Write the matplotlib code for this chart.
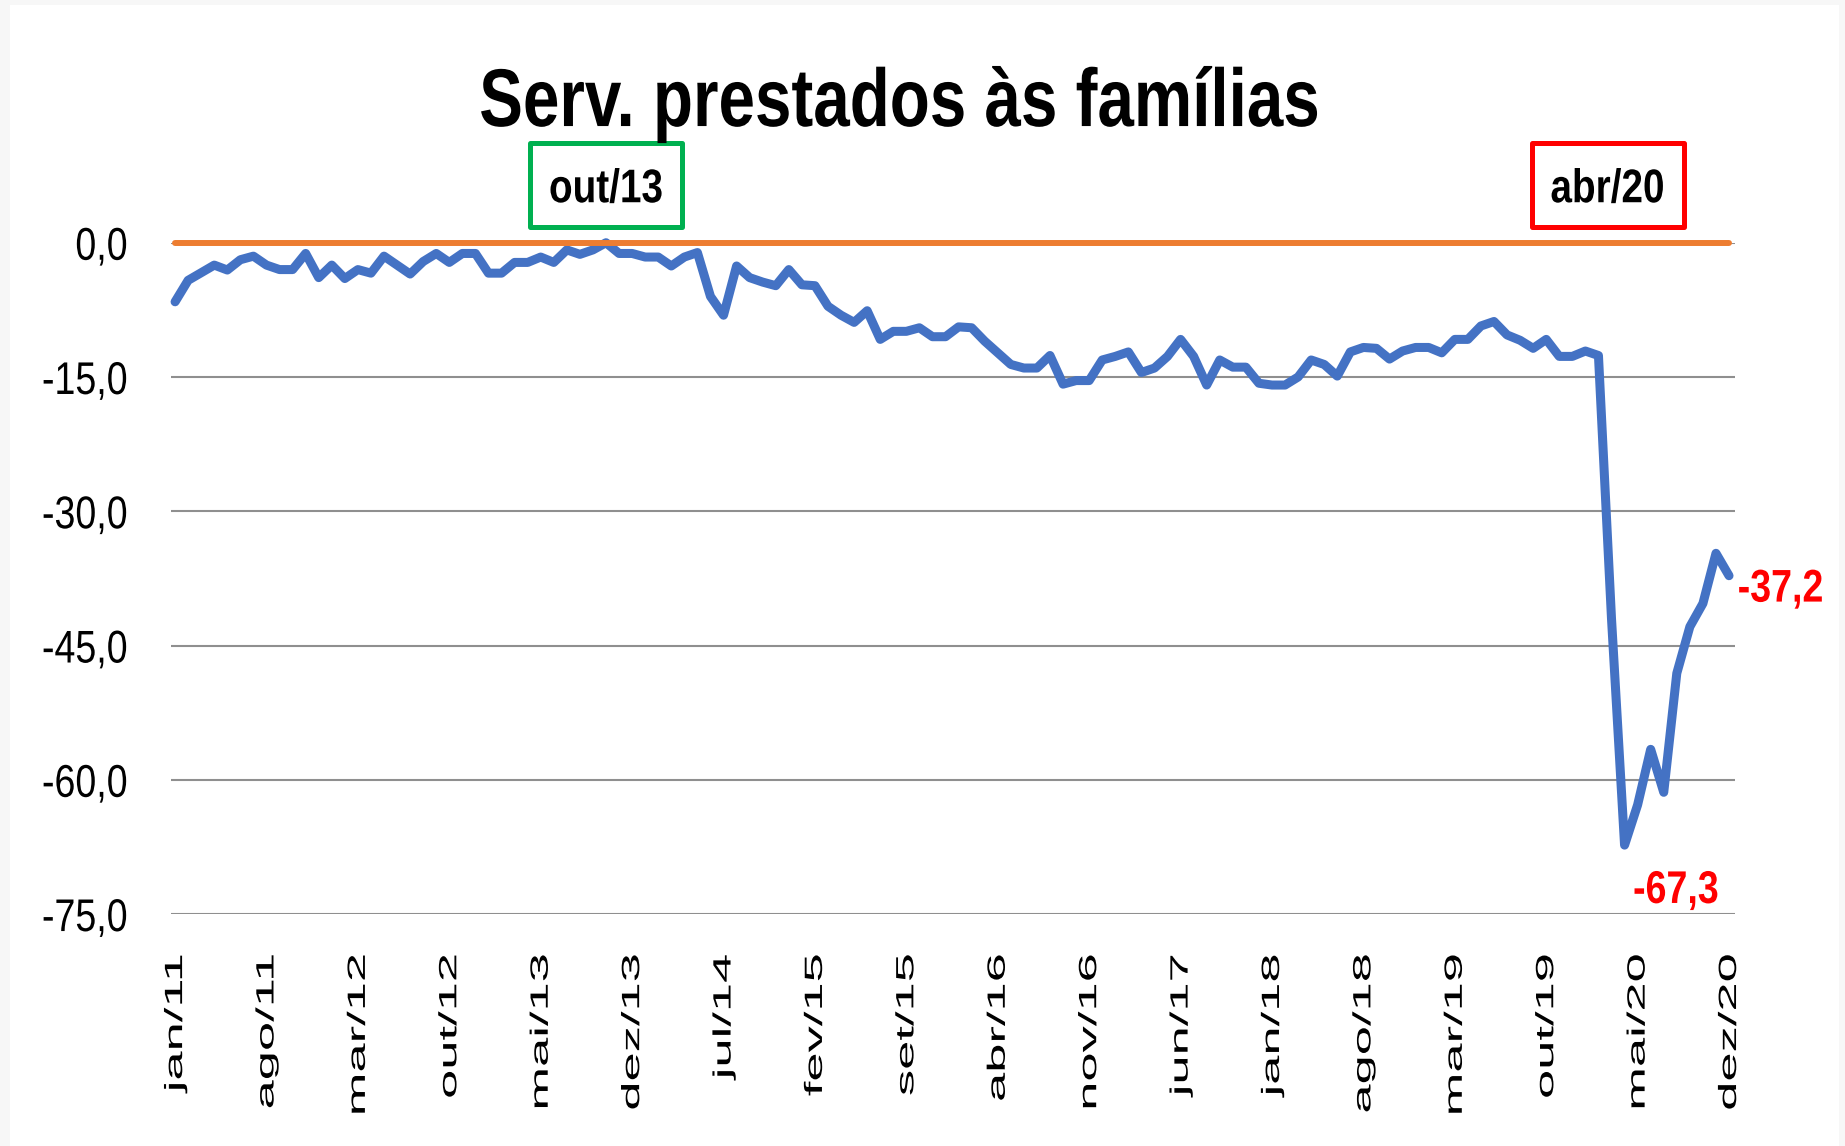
import numpy as np
import matplotlib
matplotlib.use('Agg')
import matplotlib.pyplot as plt
from matplotlib import patheffects
from matplotlib.patches import Rectangle
from matplotlib.transforms import Affine2D, blended_transform_factory

# Serviços prestados às famílias: distância (%) em relação ao pico de out/13
# jan/11 a dez/20
servicos = [
    -6.6, -4.2, -3.35, -2.5, -3.05, -1.9, -1.5, -2.5, -3.0, -3.0, -1.2, -3.9,     # 2011
    -2.5, -4.0, -3.0, -3.4, -1.5, -2.5, -3.5, -2.1, -1.2, -2.2, -1.2, -1.2,       # 2012
    -3.4, -3.4, -2.2, -2.2, -1.6, -2.2, -0.8, -1.3, -0.8, 0.0, -1.2, -1.2,        # 2013
    -1.6, -1.6, -2.6, -1.6, -1.1, -6.0, -8.1, -2.6, -3.9, -4.4, -4.8, -3.0,       # 2014
    -4.7, -4.8, -7.1, -8.1, -8.9, -7.6, -10.8, -9.9, -9.9, -9.5, -10.5, -10.5,    # 2015
    -9.4, -9.5, -11.0, -12.3, -13.6, -14.0, -14.0, -12.6, -15.8, -15.4, -15.4, -13.1,  # 2016
    -12.7, -12.2, -14.5, -14.0, -12.7, -10.8, -12.7, -15.9, -13.1, -13.9, -13.9, -15.7,  # 2017
    -15.9, -15.9, -15.0, -13.1, -13.6, -14.9, -12.2, -11.7, -11.8, -13.0, -12.1, -11.7,  # 2018
    -11.7, -12.3, -10.8, -10.8, -9.3, -8.8, -10.3, -10.9, -11.8, -10.8, -12.7, -12.7,   # 2019
    -12.1, -12.6, -42.0, -67.3, -62.8, -56.6, -61.4, -48.1, -42.9, -40.3, -34.7, -37.2,  # 2020
]
meses = ['jan', 'fev', 'mar', 'abr', 'mai', 'jun', 'jul', 'ago', 'set', 'out', 'nov', 'dez']
anos = list(range(11, 21))
rotulos = [f'{m}/{a}' for a in anos for m in meses]
passo_rotulo = 7
y_ticks = [0, -15, -30, -45, -60, -75]
destaques = ['out/13', 'abr/20']
cores_destaque = ['#00B050', '#FF0000']
desloc_destaque = [0.0, -1.3]

AZUL = '#4472C4'
LARANJA = '#ED7D31'
VERMELHO = '#FF0000'

plt.rcParams['font.family'] = ['Liberation Sans', 'DejaVu Sans']


class Esticar(patheffects.AbstractPathEffect):
    """Escala o texto no sentido da escrita (o gráfico original usa letras estreitas)."""

    def __init__(self, sx=1.0, ancora=0.5):
        super().__init__()
        self.sx = sx
        self.ancora = ancora

    def draw_path(self, renderer, gc, tpath, affine, rgbFace=None):
        ext = tpath.get_extents()
        x0 = ext.x0 + self.ancora * ext.width
        t = Affine2D().translate(-x0, 0).scale(self.sx, 1).translate(x0, 0)
        renderer.draw_path(gc, tpath, t + affine, rgbFace)


ESTREITO = 0.82  # largura tipo "narrow"

fig = plt.figure(figsize=(18.45, 11.46), dpi=100)
fig.patch.set_facecolor('#F7F7F7')
fig.patches.append(Rectangle((10 / 1845, 0), 1829 / 1845, 1141 / 1146,
                             transform=fig.transFigure, facecolor='white',
                             edgecolor='none', zorder=-1))

ax = fig.add_axes([0.0927, 0.2024, 0.9404 - 0.0927, 0.7882 - 0.2024])
ax.set_facecolor('none')

x = np.arange(len(servicos))
ax.plot(x, servicos, color=AZUL, lw=6.5, solid_joinstyle='round',
        solid_capstyle='round', zorder=3, clip_on=False)
ax.plot(x, np.zeros(len(x)), color=LARANJA, lw=4.3, solid_capstyle='round',
        zorder=4, clip_on=False)

ax.set_xlim(-0.31, 119.46)
ax.set_ylim(-75, 0)

ax.set_yticks(y_ticks, [f'{v:.1f}'.replace('.', ',') for v in y_ticks], fontsize=33)
for rot in ax.get_yticklabels():
    rot.set_path_effects([Esticar(ESTREITO, ancora=1.0)])
ax.yaxis.grid(True, color='#8F8F8F', lw=1.5)
ax.set_axisbelow(True)

pos = x[::passo_rotulo]
ax.set_xticks(pos, [rotulos[i] for i in pos], rotation=90, fontsize=18)
for rot in ax.get_xticklabels():
    rot.set_path_effects([Esticar(2.1, ancora=1.0)])

ax.tick_params(axis='x', length=0, pad=29)
ax.tick_params(axis='y', length=0, pad=31)
for s in ax.spines.values():
    s.set_visible(False)

# rótulos do último ponto e do mínimo
fmt = lambda v: f'{v:.1f}'.replace('.', ',')
ultimo = len(servicos) - 1
minimo = int(np.argmin(servicos))
ax.annotate(fmt(servicos[ultimo]), (ultimo, servicos[ultimo]), xytext=(6, -10),
            textcoords='offset points', ha='left', va='center', color=VERMELHO,
            fontsize=33, fontweight='bold', annotation_clip=False,
            path_effects=[Esticar(ESTREITO, ancora=0.0)])
ax.annotate(fmt(servicos[minimo]), (minimo, servicos[minimo]), xytext=(37, -33),
            textcoords='offset points', ha='center', va='center', color=VERMELHO,
            fontsize=33, fontweight='bold', annotation_clip=False,
            path_effects=[Esticar(ESTREITO)])

# caixas com o pico e o vale
trans = blended_transform_factory(ax.transData, fig.transFigure)
px_por_mes = ax.bbox.width / np.ptp(ax.get_xlim())
larg_caixa = 152 / px_por_mes
alt_caixa = 84 / fig.bbox.height
y_caixa = 0.8386
y_texto = 0.834
for rot, cor, dx in zip(destaques, cores_destaque, desloc_destaque):
    xc = rotulos.index(rot) + dx
    ax.add_patch(Rectangle((xc - larg_caixa / 2, y_caixa - alt_caixa / 2),
                           larg_caixa, alt_caixa, transform=trans, fc='white',
                           ec=cor, lw=3.6, joinstyle='round', clip_on=False))
    ax.text(xc, y_texto, rot, transform=trans, ha='center', va='center',
            fontsize=34, fontweight='bold', path_effects=[Esticar(ESTREITO)])

fig.text(0.488, 0.890, 'Serv. prestados às famílias', ha='center', va='baseline',
         fontsize=59, fontweight='bold', path_effects=[Esticar(0.8)])

fig.savefig('out.png', dpi=100, facecolor=fig.get_facecolor())
